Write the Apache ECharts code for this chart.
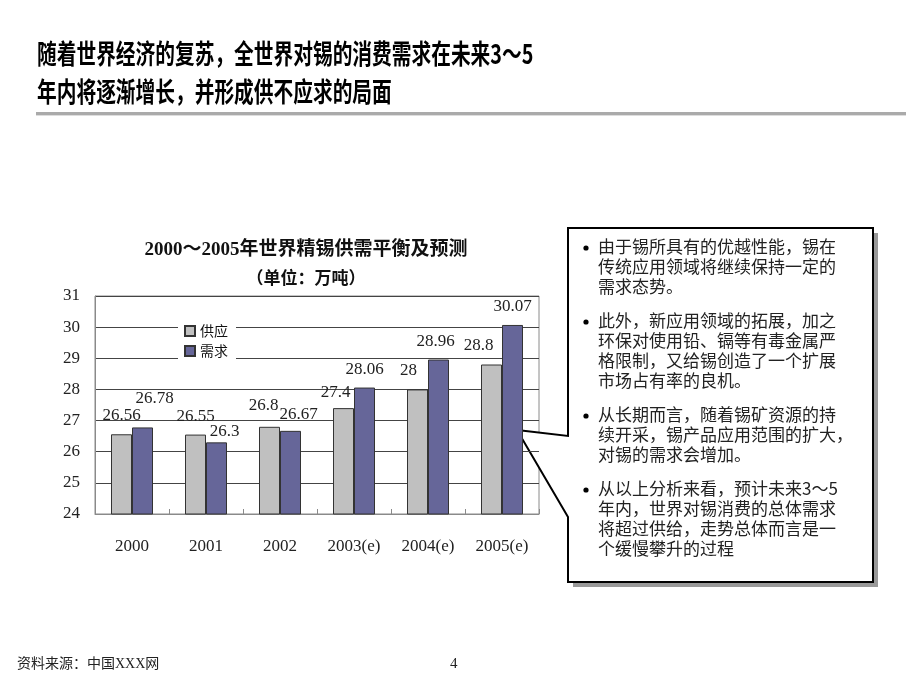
<!DOCTYPE html>
<html><head><meta charset="utf-8">
<script src="https://cdn.jsdelivr.net/npm/echarts@6/dist/echarts.min.js"></script>
<style>html,body{margin:0;padding:0;background:#fff}#c{width:920px;height:690px}</style>
</head><body><div id="c"></div>
<script>
// ---- data ----
const categories = ['2000', '2001', '2002', '2003(e)', '2004(e)', '2005(e)'];
const supplyValues = [26.56, 26.55, 26.8, 27.4, 28, 28.8];
const demandValues = [26.78, 26.3, 26.67, 28.06, 28.96, 30.07];
const seriesNames = ['供应', '需求'];
const yTicks = [24, 25, 26, 27, 28, 29, 30, 31];
const headingLines = ['随着世界经济的复苏，全世界对锡的消费需求在未来3～5', '年内将逐渐增长，并形成供不应求的局面'];
const chartTitle = '2000～2005年世界精锡供需平衡及预测';
const chartSubtitle = '（单位：万吨）';
const bullets = [
  ['由于锡所具有的优越性能，锡在', '传统应用领域将继续保持一定的', '需求态势。'],
  ['此外，新应用领域的拓展，加之', '环保对使用铅、镉等有毒金属严', '格限制，又给锡创造了一个扩展', '市场占有率的良机。'],
  ['从长期而言，随着锡矿资源的持', '续开采，锡产品应用范围的扩大，', '对锡的需求会增加。'],
  ['从以上分析来看，预计未来3～5', '年内，世界对锡消费的总体需求', '将超过供给，走势总体而言是一', '个缓慢攀升的过程']
];
const sourceText = '资料来源：中国XXX网';
const pageNumber = '4';

// ---- label nudges (style only) ----
const supplyShift = [[0,0],[0,0],[-6,-3],[-8,3],[-9,0],[-13,0]];
const demandShift = [[12,-10],[8,8],[8,2],[0,0],[-3,0],[0,0]];

const SERIF = '"Liberation Serif","Noto Sans CJK SC",serif';
const CJK = '"Noto Sans CJK SC",sans-serif';

function items(vals, shifts) {
  return vals.map((v, i) => ({ value: v, label: { offset: shifts[i] } }));
}

const chart = echarts.init(document.getElementById('c'), null, { renderer: 'canvas' });

// bullets layout
const bulletGraphics = [];
let y = 237;
bullets.forEach(p => {
  bulletGraphics.push({ type: 'circle', shape: { cx: 586, cy: y + 11, r: 2.6 }, style: { fill: '#000' } });
  bulletGraphics.push({ type: 'text', left: 598, top: y, style: { text: p.join('\n'), font: '17px ' + CJK, fill: '#222', lineHeight: 20 } });
  y += p.length * 20 + 14;
});

const option = {
  backgroundColor: '#fff',
  animation: false,
  title: [
    { text: chartTitle, left: 301, top: 236, textAlign: 'center',
      textStyle: { fontFamily: SERIF, fontSize: 19, fontWeight: 'bold', color: '#111' } },
    { text: chartSubtitle, left: 301, top: 266, textAlign: 'center',
      textStyle: { fontFamily: SERIF, fontSize: 17, fontWeight: 'bold', color: '#111' } }
  ],
  legend: {
    data: seriesNames, orient: 'vertical', left: 178, top: 320, itemWidth: 10, itemHeight: 10,
    itemGap: 6, padding: [4, 8, 4, 6], backgroundColor: '#fff',
    textStyle: { fontFamily: CJK, fontSize: 14, color: '#111' },
    icon: 'rect'
  },
  grid: { left: 95, top: 296, right: 381, bottom: 176, show: true, borderColor: '#8a8a8a', borderWidth: 1 },
  xAxis: {
    type: 'category', data: categories,
    axisLine: { lineStyle: { color: '#8a8a8a' } },
    axisTick: { show: true, inside: true, length: 5, lineStyle: { color: '#8a8a8a' } },
    axisLabel: { fontFamily: SERIF, fontSize: 17, color: '#222', margin: 24 }
  },
  yAxis: {
    type: 'value', min: yTicks[0], max: yTicks[yTicks.length - 1], interval: 1,
    axisLine: { show: true, lineStyle: { color: '#8a8a8a' } },
    axisTick: { show: false },
    axisLabel: { fontFamily: SERIF, fontSize: 17, color: '#222', margin: 15 },
    splitLine: { lineStyle: { color: '#444', width: 1 } }
  },
  series: [
    { name: seriesNames[0], type: 'bar', data: items(supplyValues, supplyShift), barWidth: 21, barGap: '0%',
      itemStyle: { color: '#c0c0c0', borderColor: '#333', borderWidth: 1 },
      label: { show: true, position: 'top', distance: 10, fontFamily: SERIF, fontSize: 17, color: '#222' } },
    { name: seriesNames[1], type: 'bar', data: items(demandValues, demandShift), barWidth: 21, barGap: '0%',
      itemStyle: { color: '#666699', borderColor: '#333', borderWidth: 1 },
      label: { show: true, position: 'top', distance: 10, fontFamily: SERIF, fontSize: 17, color: '#222' } }
  ],
  graphic: [
    { type: 'text', x: 37, y: 40, scaleX: 0.73, style: { text: headingLines[0], font: 'bold 27px ' + CJK, fill: '#000' } },
    { type: 'text', x: 37, y: 78, scaleX: 0.73, style: { text: headingLines[1], font: 'bold 27px ' + CJK, fill: '#000' } },
    { type: 'rect', shape: { x: 36, y: 112, width: 870, height: 3 }, style: { fill: '#aaa' } },
    { type: 'rect', shape: { x: 36, y: 115, width: 870, height: 1 }, style: { fill: '#ddd' } },
    // callout shadow
    { type: 'polygon', shape: { points: [[573, 233], [878, 233], [878, 587], [573, 587], [573, 522], [522, 435], [573, 441]] },
      style: { fill: '#999' } },
    { type: 'polygon', shape: { points: [[568, 228], [873, 228], [873, 582], [568, 582], [568, 517], [517, 430], [568, 436]] },
      style: { fill: '#fff', stroke: '#000', lineWidth: 2 } },
    ...bulletGraphics,
    { type: 'text', left: 17, top: 657, style: { text: sourceText, font: '14px ' + SERIF, fill: '#222' } },
    { type: 'text', left: 450, top: 657, style: { text: pageNumber, font: '15px ' + SERIF, fill: '#222' } }
  ]
};
chart.setOption(option);
</script></body></html>
